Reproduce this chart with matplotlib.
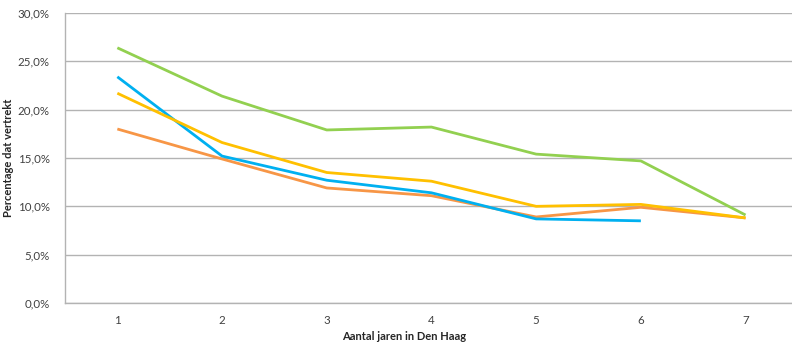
import matplotlib.pyplot as plt
from matplotlib.ticker import FuncFormatter

years = [1, 2, 3, 4, 5, 6, 7]

# percentage leaving, per group
green = [26.4, 21.4, 17.9, 18.2, 15.4, 14.7, 9.1]
blue = [23.4, 15.2, 12.7, 11.4, 8.7, 8.5]
yellow = [21.7, 16.6, 13.5, 12.6, 10.0, 10.2, 8.8]
orange = [18.0, 14.9, 11.9, 11.1, 8.9, 9.9, 8.8]

plt.rcParams["font.family"] = ["Lato", "DejaVu Sans"]

fig = plt.figure(figsize=(7.92, 3.43), dpi=100)
ax = fig.add_axes([65 / 792, 40 / 343, 1 - 65 / 792, 290 / 343])

ax.plot(years, orange, color="#F79646", lw=2.0, solid_capstyle="butt", zorder=3)
ax.plot(years[:len(blue)], blue, color="#00B0F0", lw=2.0, solid_capstyle="butt", zorder=4)
ax.plot(years, yellow, color="#FFC000", lw=2.0, solid_capstyle="butt", zorder=5)
ax.plot(years, green, color="#92D050", lw=2.0, solid_capstyle="butt", zorder=6)

ax.set_ylim(0, 30)
ax.set_yticks(range(0, 31, 5))
ax.yaxis.set_major_formatter(FuncFormatter(lambda v, p: f"{v:.1f}%".replace(".", ",")))
ax.set_xlim(0.5, 0.5 + 727 / 104.7)
ax.set_xticks(years)

ax.grid(True, axis="y", color="#b3b3b3", lw=1.0)
ax.set_axisbelow(True)
for side in ["top", "right"]:
    ax.spines[side].set_visible(False)
for side in ["left", "bottom"]:
    ax.spines[side].set_color("#b3b3b3")
    ax.spines[side].set_linewidth(1.0)

ax.tick_params(axis="both", length=0, labelsize=8.3, labelcolor="#404040")
ax.tick_params(axis="y", pad=11)
ax.tick_params(axis="x", pad=9)

ax.set_xlabel("Aantal jaren in Den Haag", fontsize=8, fontweight="bold",
              color="#262626")
ax.set_ylabel("Percentage dat vertrekt", fontsize=8, fontweight="bold",
              color="#262626")
ax.xaxis.set_label_coords((404 - 65) / 727, -28 / 290)
ax.yaxis.set_label_coords((14 - 65) / 727, 0.5)

fig.savefig("out.png", dpi=100)
